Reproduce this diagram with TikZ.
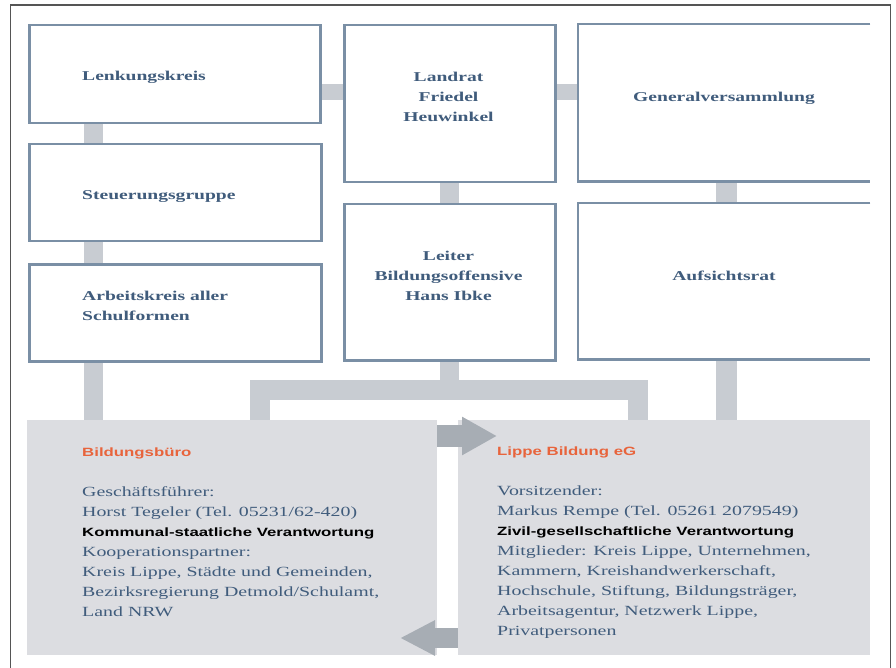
\documentclass[tikz,border=0pt]{standalone}
\usepackage{fontspec}
\setmainfont{Liberation Serif}
\newfontfamily\boxfont[FakeStretch=1.45]{Liberation Serif}
\newfontfamily\panelfont[FakeStretch=1.42]{Liberation Serif}
\newfontfamily\widesans[FakeStretch=1.4]{Liberation Sans}
\usetikzlibrary{arrows.meta,backgrounds}
\definecolor{boxline}{HTML}{7A8FA5}
\definecolor{connfill}{HTML}{C8CCD2}
\definecolor{panelfill}{HTML}{DCDDE1}
\definecolor{arrowfill}{HTML}{A7ADB4}
\definecolor{bluetext}{HTML}{405C7C}
\definecolor{orangehead}{HTML}{E8643C}
\definecolor{framecol}{HTML}{555555}
\begin{document}
\begin{tikzpicture}[x=1pt,y=-1pt,
  orgbox/.style={draw=boxline, line width=2.5pt, fill=white, inner sep=0pt, anchor=north west},
  openbox/.style={fill=white, inner sep=0pt, anchor=north west},
  panel/.style={fill=panelfill, inner sep=0pt, anchor=north west},
  boxlbl/.style={inner sep=0pt, text=bluetext, font=\boxfont\bfseries\fontsize{13.5}{20}\selectfont},
  paneltext/.style={inner sep=0pt, anchor=north west, align=left, text=bluetext, font=\panelfont\fontsize{14}{20}\selectfont},
  conn/.style={draw=connfill, line width=19pt},
  bigarrow/.style={draw=arrowfill, fill=arrowfill},
]
\useasboundingbox (0,0) rectangle (896,668);

% frame
\draw[framecol, line width=1.2pt] (10.7,672) -- (10.7,5) -- (890.5,5) -- (890.5,672);

% boxes
\node[orgbox, minimum width=291pt, minimum height=98pt] (lenk) at (28,24) {};
\node[orgbox, minimum width=292pt, minimum height=97pt] (steu) at (28,143) {};
\node[orgbox, minimum width=292pt, minimum height=97pt] (ark) at (28,263) {};
\node[orgbox, minimum width=211pt, minimum height=157pt] (land) at (343,24) {};
\node[orgbox, minimum width=211pt, minimum height=156pt] (leit) at (343,203) {};
\node[openbox, minimum width=292pt, minimum height=157pt] (gv) at (578,24) {};
\node[openbox, minimum width=292pt, minimum height=156pt] (ar) at (578,203) {};
\draw[boxline, line width=2.5pt] (gv.north east) -- (gv.north west) -- (gv.south west) -- (gv.south east);
\draw[boxline, line width=2.5pt] (ar.north east) -- (ar.north west) -- (ar.south west) -- (ar.south east);

% panels
\node[panel, minimum width=410pt, minimum height=235pt] (bb) at (27,420) {};
\node[panel, minimum width=412pt, minimum height=235pt] (lb) at (458,420) {};

% helper coordinates
\coordinate (xl) at (93,0);
\coordinate (xm) at (449,0);
\coordinate (xr) at (726,0);
\coordinate (yh) at (0,92);
\coordinate (ybar) at (0,390);
\coordinate (bl) at (260,0);
\coordinate (br) at (638,0);

% connectors
\begin{scope}[on background layer]
\draw[conn] (lenk.south -| xl) -- (steu.north -| xl);
\draw[conn] (steu.south -| xl) -- (ark.north -| xl);
\draw[conn] (ark.south -| xl) -- (bb.north -| xl);
\draw[conn, line width=16pt] (lenk.east |- yh) -- (land.west |- yh);
\draw[conn, line width=16pt] (land.east |- yh) -- (gv.west |- yh);
\draw[conn] (land.south -| xm) -- (leit.north -| xm);
\draw[conn, line width=21pt] (gv.south -| xr) -- (ar.north -| xr);
\draw[conn, line width=21pt] (ar.south -| xr) -- (lb.north -| xr);
\draw[conn] (leit.south -| xm) -- (ybar -| xm);
\draw[conn, line width=20pt, line join=miter] (bb.north -| bl) -- (ybar -| bl) -- (ybar -| br) -- (lb.north -| br);
\end{scope}

% arrows
\coordinate (a1) at (497,436);
\coordinate (a2) at (400,638);
\draw[bigarrow, line width=22pt, -{Triangle[length=35pt, width=36pt]}] (bb.east |- a1) -- (a1);
\draw[bigarrow, line width=20pt, -{Triangle[length=35pt, width=33pt]}] (lb.west |- a2) -- (a2);

% box labels
\node[boxlbl, anchor=west] at (82,77) {Lenkungskreis};
\node[boxlbl, anchor=west] at (82,197) {Steuerungsgruppe};
\node[boxlbl, anchor=west, align=left] at (82,306) {Arbeitskreis aller\\Schulformen};
\node[boxlbl, align=center] at (448.5,97) {Landrat\\Friedel\\Heuwinkel};
\node[boxlbl, align=center] at (448.5,276) {Leiter\\Bildungsoffensive\\Hans Ibke};
\node[boxlbl] at (724,98) {Generalversammlung};
\node[boxlbl] at (724,276) {Aufsichtsrat};

% panel texts
\node[paneltext] (bbtext) at (82,448) {%
{\widesans\bfseries\fontsize{12}{20}\selectfont\color{orangehead}Bildungsbüro}\\[20pt]
Geschäftsführer:\\
Horst Tegeler (Tel. 05231/62-420)\\
{\widesans\bfseries\fontsize{12}{20}\selectfont\color{black}Kommunal-staatliche Verantwortung}\\
Kooperationspartner:\\
Kreis Lippe, Städte und Gemeinden,\\
Bezirksregierung Detmold/Schulamt,\\
Land NRW};
\node[paneltext] (lbtext) at (497,447) {%
{\widesans\bfseries\fontsize{12}{20}\selectfont\color{orangehead}Lippe Bildung eG}\\[20pt]
Vorsitzender:\\
Markus Rempe (Tel. 05261 2079549)\\
{\widesans\bfseries\fontsize{12}{20}\selectfont\color{black}Zivil-gesellschaftliche Verantwortung}\\
Mitglieder: Kreis Lippe, Unternehmen,\\
Kammern, Kreishandwerkerschaft,\\
Hochschule, Stiftung, Bildungsträger,\\
Arbeitsagentur, Netzwerk Lippe,\\
Privatpersonen};
\end{tikzpicture}
\end{document}
